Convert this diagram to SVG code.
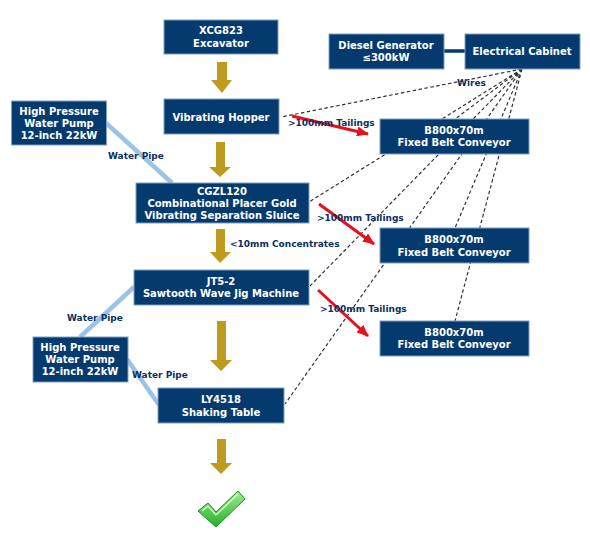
<svg xmlns="http://www.w3.org/2000/svg" width="590" height="535" viewBox="0 0 590 535">
<style>
.box{fill:#053a6e;stroke:#7f9fbf;stroke-width:1}
.t{font-family:"DejaVu Sans",Verdana,sans-serif;font-size:10px;font-weight:700;fill:#fff;text-anchor:middle}
.l{font-family:"DejaVu Sans",Verdana,sans-serif;font-size:9px;font-weight:700;fill:#0b3060}
.w{stroke:#333;stroke-width:1.2;stroke-dasharray:3.500 2.500;fill:none}
.p{stroke:#9cc3e6;stroke-width:4.5;fill:none}
.r{stroke:#e8101c;stroke-width:3;fill:none;marker-end:url(#ra)}
.g{fill:#bf9a20}
</style>
<defs>
<marker id="ra" markerUnits="userSpaceOnUse" markerWidth="12" markerHeight="10" refX="11" refY="5" orient="auto"><path d="M0 0L12 5L0 10z" fill="#e8101c"/></marker>
<linearGradient id="ck" x1="0" y1="0" x2="0" y2="1"><stop offset="0" stop-color="#9cf08a"/><stop offset="1" stop-color="#22b02c"/></linearGradient>
</defs>
<g id="connectors">
<path class="w" d="M522 69L281 117M522 69L309 202M522 69L309 287M522 69L285 404M522 69L455 119M522 69L455 228M522 69L455 321"/>
<path d="M444 51H465" stroke="#053a6e" stroke-width="3.5"/>
<path class="p" d="M106 123L172 183M134 287L80 337M127 359L159 405"/>
<path class="r" d="M292 116L368 134"/>
<path class="r" d="M319 204L374 244"/>
<path class="r" d="M318 290L368 336"/>
<path class="g" d="M217 62H227V80H232L222 93L211 80H217Z"/>
<path class="g" d="M216 142H225V167H231L220 177L209 167H216Z"/>
<path class="g" d="M216 229H225V252H231L220 263L210 252H216Z"/>
<path class="g" d="M217 321H226V360H232L221 371L210 360H217Z"/>
<path class="g" d="M217 439H226V463H232L221 474L210 463H217Z"/>
</g>
<g id="excavator"><rect class="box" x="164" y="20" width="114" height="34"/><text class="t" x="221" y="34">XCG823</text><text class="t" x="221" y="47">Excavator</text></g>
<g id="generator"><rect class="box" x="329" y="34" width="115" height="35"/><text class="t" x="386" y="49">Diesel Generator</text><text class="t" x="386" y="61">≤300kW</text></g>
<g id="cabinet"><rect class="box" x="465" y="34" width="115" height="35"/><text class="t" x="522" y="55">Electrical Cabinet</text></g>
<g id="hopper"><rect class="box" x="164" y="99" width="115" height="35"/><text class="t" x="221" y="121">Vibrating Hopper</text></g>
<g id="pump1"><rect class="box" x="11.500" y="101" width="95" height="44"/><text class="t" x="59" y="115">High Pressure</text><text class="t" x="59" y="127">Water Pump</text><text class="t" x="59" y="139">12-inch 22kW</text></g>
<g id="sluice"><rect class="box" x="136" y="183" width="173" height="40"/><text class="t" x="222" y="195">CGZL120</text><text class="t" x="222" y="207">Combinational Placer Gold</text><text class="t" x="222" y="219">Vibrating Separation Sluice</text></g>
<g id="jig"><rect class="box" x="134" y="270" width="175" height="35"/><text class="t" x="221" y="285">JT5-2</text><text class="t" x="221" y="297">Sawtooth Wave Jig Machine</text></g>
<g id="pump2"><rect class="box" x="33" y="337" width="95" height="45"/><text class="t" x="80" y="351">High Pressure</text><text class="t" x="80" y="363">Water Pump</text><text class="t" x="80" y="375">12-inch 22kW</text></g>
<g id="table"><rect class="box" x="158" y="388" width="126" height="35"/><text class="t" x="221" y="403">LY4518</text><text class="t" x="221" y="416">Shaking Table</text></g>
<g id="conveyor1"><rect class="box" x="380" y="119" width="149" height="35"/><text class="t" x="454" y="134">B800x70m</text><text class="t" x="454" y="146">Fixed Belt Conveyor</text></g>
<g id="conveyor2"><rect class="box" x="380" y="228" width="149" height="35"/><text class="t" x="454" y="243">B800x70m</text><text class="t" x="454" y="256">Fixed Belt Conveyor</text></g>
<g id="conveyor3"><rect class="box" x="380" y="321" width="149" height="35"/><text class="t" x="454" y="336">B800x70m</text><text class="t" x="454" y="348">Fixed Belt Conveyor</text></g>
<g id="labels">
<text class="l" x="457" y="86">Wires</text>
<text class="l" x="288" y="126">&gt;100mm Tailings</text>
<text class="l" x="108" y="159">Water Pipe</text>
<text class="l" x="317" y="221">&gt;100mm Tailings</text>
<text class="l" x="230" y="247">&lt;10mm Concentrates</text>
<text class="l" x="320" y="312">&gt;100mm Tailings</text>
<text class="l" x="67" y="321">Water Pipe</text>
<text class="l" x="132" y="378">Water Pipe</text>
</g>
<g id="check"><path d="M198 511L208 503L216 512L238 491L245 499L216 527Z" fill="url(#ck)" stroke="#1e8a28" stroke-width="1"/><path d="M202 511L208 506L216 515L238 494" fill="none" stroke="#d4f8c4" stroke-width="1.500"/></g>
</svg>
